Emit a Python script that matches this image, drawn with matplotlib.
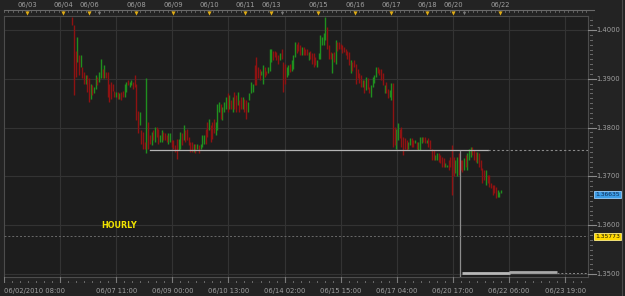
import numpy as np
import matplotlib
matplotlib.use("Agg")
import matplotlib.pyplot as plt
from matplotlib.lines import Line2D

# Свечи (часовые), цены открытия и закрытия
opens = [
    1.4027, 1.4010, 1.3958, 1.3934, 1.3948, 1.3924, 1.3924, 1.3914, 1.3890, 1.3907,
    1.3901, 1.3859, 1.3887, 1.3870, 1.3880, 1.3904, 1.3894, 1.3901, 1.3921, 1.3901,
    1.3914, 1.3914, 1.3890, 1.3894, 1.3890, 1.3876, 1.3863, 1.3873, 1.3859, 1.3873,
    1.3876, 1.3863, 1.3873, 1.3897, 1.3883, 1.3887, 1.3894, 1.3907, 1.3890, 1.3835,
    1.3805, 1.3795, 1.3791, 1.3771, 1.3747, 1.3812, 1.3784, 1.3764, 1.3795, 1.3771,
    1.3801, 1.3798, 1.3771, 1.3771, 1.3791, 1.3788, 1.3784, 1.3767, 1.3771, 1.3774,
    1.3774, 1.3764, 1.3777, 1.3754, 1.3757, 1.3788, 1.3774, 1.3795, 1.3798, 1.3781,
    1.3771, 1.3771, 1.3750, 1.3767, 1.3757, 1.3764, 1.3757, 1.3760, 1.3767, 1.3798,
    1.3812, 1.3795, 1.3805, 1.3812, 1.3818, 1.3784, 1.3795, 1.3832, 1.3849, 1.3815,
    1.3832, 1.3839, 1.3870, 1.3839, 1.3856, 1.3832, 1.3873, 1.3866, 1.3846, 1.3856,
    1.3863, 1.3839, 1.3859, 1.3856, 1.3832, 1.3856, 1.3870, 1.3873, 1.3928, 1.3945,
    1.3924, 1.3921, 1.3907, 1.3890, 1.3924, 1.3917, 1.3911, 1.3917, 1.3934, 1.3958,
    1.3958, 1.3955, 1.3948, 1.3938, 1.3962, 1.3934, 1.3931, 1.3904, 1.3907, 1.3931,
    1.3917, 1.3921, 1.3945, 1.3972, 1.3975, 1.3969, 1.3948, 1.3965, 1.3962, 1.3962,
    1.3938, 1.3958, 1.3952, 1.3952, 1.3945, 1.3924, 1.3941, 1.3941, 1.3969, 1.3969,
    1.3979, 1.4006, 1.3969, 1.3955, 1.3911, 1.3955, 1.3931, 1.3975, 1.3975, 1.3972,
    1.3969, 1.3965, 1.3962, 1.3958, 1.3955, 1.3911, 1.3934, 1.3938, 1.3931, 1.3921,
    1.3911, 1.3908, 1.3884, 1.3897, 1.3877, 1.3901, 1.3884, 1.3863, 1.3884, 1.3891,
    1.3904, 1.3925, 1.3921, 1.3921, 1.3911, 1.3870, 1.3894, 1.3880, 1.3863, 1.3857,
    1.3891, 1.3802, 1.3757, 1.3775, 1.3798, 1.3802, 1.3781, 1.3778, 1.3775, 1.3757,
    1.3764, 1.3778, 1.3775, 1.3768, 1.3771, 1.3754, 1.3754, 1.3768, 1.3781, 1.3781,
    1.3768, 1.3778, 1.3775, 1.3757, 1.3754, 1.3734, 1.3734, 1.3747, 1.3744, 1.3740,
    1.3737, 1.3720, 1.3720, 1.3734, 1.3740, 1.3764, 1.3740, 1.3706, 1.3700, 1.3747,
    1.3734, 1.3734, 1.3713, 1.3744, 1.3713, 1.3734, 1.3740, 1.3761, 1.3754, 1.3751,
    1.3727, 1.3747, 1.3734, 1.3717, 1.3713, 1.3682, 1.3703, 1.3703, 1.3686, 1.3682,
    1.3682, 1.3679, 1.3658, 1.3658, 1.3666,
]
closes = [
    1.4010, 1.3866, 1.3904, 1.3986, 1.3907, 1.3948, 1.3901, 1.3890, 1.3907, 1.3873,
    1.3853, 1.3890, 1.3866, 1.3883, 1.3907, 1.3887, 1.3914, 1.3941, 1.3901, 1.3928,
    1.3901, 1.3863, 1.3853, 1.3859, 1.3876, 1.3863, 1.3873, 1.3859, 1.3870, 1.3856,
    1.3863, 1.3890, 1.3894, 1.3887, 1.3894, 1.3897, 1.3880, 1.3883, 1.3815, 1.3788,
    1.3832, 1.3767, 1.3757, 1.3757, 1.3901, 1.3757, 1.3767, 1.3791, 1.3774, 1.3801,
    1.3781, 1.3767, 1.3784, 1.3795, 1.3774, 1.3774, 1.3771, 1.3788, 1.3788, 1.3760,
    1.3757, 1.3750, 1.3736, 1.3777, 1.3791, 1.3764, 1.3805, 1.3771, 1.3774, 1.3764,
    1.3750, 1.3750, 1.3767, 1.3747, 1.3767, 1.3747, 1.3767, 1.3784, 1.3784, 1.3767,
    1.3781, 1.3818, 1.3771, 1.3777, 1.3788, 1.3812, 1.3849, 1.3853, 1.3818, 1.3842,
    1.3853, 1.3863, 1.3832, 1.3866, 1.3839, 1.3863, 1.3839, 1.3832, 1.3873, 1.3832,
    1.3839, 1.3863, 1.3832, 1.3818, 1.3853, 1.3870, 1.3894, 1.3890, 1.3887, 1.3887,
    1.3901, 1.3897, 1.3917, 1.3928, 1.3904, 1.3907, 1.3924, 1.3962, 1.3962, 1.3938,
    1.3945, 1.3938, 1.3931, 1.3952, 1.3941, 1.3873, 1.3890, 1.3924, 1.3928, 1.3914,
    1.3938, 1.3948, 1.3975, 1.3952, 1.3958, 1.3948, 1.3965, 1.3948, 1.3948, 1.3948,
    1.3955, 1.3941, 1.3931, 1.3924, 1.3928, 1.3938, 1.3952, 1.3989, 1.3986, 1.3993,
    1.4027, 1.3962, 1.3941, 1.3941, 1.3952, 1.3934, 1.3979, 1.3958, 1.3962, 1.3962,
    1.3952, 1.3955, 1.3948, 1.3941, 1.3928, 1.3938, 1.3917, 1.3924, 1.3890, 1.3901,
    1.3891, 1.3884, 1.3897, 1.3870, 1.3904, 1.3880, 1.3870, 1.3887, 1.3904, 1.3908,
    1.3925, 1.3911, 1.3908, 1.3897, 1.3887, 1.3887, 1.3870, 1.3860, 1.3877, 1.3891,
    1.3761, 1.3764, 1.3798, 1.3809, 1.3778, 1.3761, 1.3744, 1.3757, 1.3754, 1.3771,
    1.3778, 1.3761, 1.3761, 1.3775, 1.3757, 1.3771, 1.3781, 1.3781, 1.3771, 1.3768,
    1.3775, 1.3761, 1.3757, 1.3734, 1.3734, 1.3744, 1.3747, 1.3730, 1.3727, 1.3720,
    1.3720, 1.3727, 1.3724, 1.3713, 1.3720, 1.3662, 1.3700, 1.3734, 1.3740, 1.3703,
    1.3713, 1.3710, 1.3737, 1.3720, 1.3747, 1.3757, 1.3761, 1.3744, 1.3734, 1.3730,
    1.3751, 1.3720, 1.3713, 1.3686, 1.3693, 1.3713, 1.3686, 1.3679, 1.3676, 1.3662,
    1.3666, 1.3655, 1.3672, 1.3669, 1.3672,
]

# Ось времени: часы от 06/02/2010 08:00
first_hour, last_hour = 45, 327.7
x_max = 385
bottom_ticks = [0, 37, 74, 111, 148, 185, 222, 259, 296, 333, 370]
bottom_labels = ['06/02/2010 08:00', '', '06/07 11:00', '06/09 00:00', '06/10 13:00',
                 '06/14 02:00', '06/15 15:00', '06/17 04:00', '06/20 17:00',
                 '06/22 06:00', '06/23 19:00']
top_dates = ['06/03', '06/04', '06/06', '06/08', '06/09', '06/10', '06/11', '06/13',
             '06/15', '06/16', '06/17', '06/18', '06/20', '06/22']
top_pos = [15.2, 39, 56.1, 87.2, 111.5, 135.2, 158.9, 176.1, 207.1, 231.4, 255.2,
           278.9, 296.0, 327.0]
gray_marks = [62.7, 183.3, 303.3]

price_ticks = [1.35, 1.36, 1.37, 1.38, 1.39, 1.40]
y_lo, y_hi = 1.34939, 1.40287

# Линии и метки
support = 1.3754
support_from, support_to = 96.3, 319
vline_at, vline_top = 300.6, 1.3752
dash_level = 1.35773
last_price = 1.36635
bar_level1, bar_from1, bar_to1 = 1.3503, 302, 333.6
bar_level2, bar_from2, bar_to2 = 1.3505, 333, 364.6

W, H = 625, 296
BG = '#232323'
PLOT_BG = '#1d1d1d'
GRID = '#333333'
TXT = '#a0a0a0'
FS = 4.9


def box(x0, y0, x1, y1):
    # пиксели (от левого верхнего угла) -> доли фигуры
    return [x0 / W, 1 - y1 / H, (x1 - x0) / W, (y1 - y0) / H]


fig = plt.figure(figsize=(W / 100, H / 100), dpi=100, facecolor=BG)

ax = fig.add_axes(box(3.9, 16, 588, 277), facecolor=PLOT_BG)
ax.set_xlim(0, x_max)
ax.set_ylim(y_lo, y_hi)
for s in ax.spines.values():
    s.set_color('#4c4c4c')
    s.set_linewidth(0.8)
ax.set_xticks([])
ax.set_yticks([])
for p in price_ticks:
    ax.axhline(p, color=GRID, lw=0.8, zorder=0)
for tk in bottom_ticks[1:]:
    ax.axvline(tk, color=GRID, lw=0.8, zorder=0)

# Свечи
o = np.array(opens)
c = np.array(closes)
t = np.linspace(first_hour, last_hour, len(o))
up = c >= o
ax.vlines(t[up], o[up], c[up], colors='#1f8f1f', lw=1.0, zorder=3)
ax.vlines(t[~up], c[~up], o[~up], colors='#8e1212', lw=1.0, zorder=3)

# Уровни
ax.plot([support_from, support_to], [support, support], color='#b4b4b4', lw=0.9, zorder=4)
ax.plot([support_to, x_max], [support, support], color='#8a8a8a', lw=0.8,
        ls=(0, (2, 2)), zorder=4)
ax.plot([vline_at, vline_at], [y_lo, vline_top], color='#8c8c8c', lw=0.9, zorder=4)
ax.axhline(dash_level, color='#6a6a6a', lw=0.7, ls=(0, (2, 2)), zorder=4)
ax.plot([bar_from1, bar_to1], [bar_level1, bar_level1], color='#b8b8b8', lw=2.0,
        solid_capstyle='butt', zorder=4)
ax.plot([bar_from2, bar_to2], [bar_level2, bar_level2], color='#a8a8a8', lw=2.0,
        solid_capstyle='butt', zorder=4)
ax.plot([bar_to2, x_max], [bar_level1, bar_level1], color='#8a8a8a', lw=0.7,
        ls=(0, (2, 2)), zorder=4)

# Правая шкала цен
rax = fig.add_axes(box(588, 16, 593, 277), facecolor='none')
rax.set_xlim(0, 1)
rax.set_ylim(y_lo, y_hi)
rax.axis('off')
rax.axvline(1, color='#6a6a6a', lw=0.8)
for p in np.arange(1.350, 1.4025, 0.001):
    rax.plot([0.4, 1], [p, p], color='#6a6a6a', lw=0.7)
for p in price_ticks:
    rax.plot([-0.1, 1.5], [p, p], color='#8a8a8a', lw=0.8, clip_on=False)

rlab = fig.add_axes(box(593, 16, 622, 277), facecolor='none')
rlab.set_xlim(0, 1)
rlab.set_ylim(y_lo, y_hi)
rlab.axis('off')
for p in price_ticks:
    rlab.text(0.1, p, f'{p:.4f}', color=TXT, fontsize=FS, va='center', ha='left')
rlab.text(0.08, last_price, f'{last_price:.5f}', color='#0c2a55', fontsize=4.3,
          va='center', ha='left',
          bbox=dict(boxstyle='square,pad=0.2', fc='#3d9de6', ec='#9bd0ff', lw=0.6))
rlab.text(0.08, dash_level, f'{dash_level:.5f}', color='#111111', fontsize=4.3,
          va='center', ha='left',
          bbox=dict(boxstyle='square,pad=0.2', fc='#ffd800', ec='#fff08a', lw=0.6))

# Нижняя шкала времени
bax = fig.add_axes(box(3.9, 277, 588, 283), facecolor='none')
bax.set_xlim(0, x_max)
bax.set_ylim(0, 1)
bax.axis('off')
bax.axhline(0, color='#6a6a6a', lw=0.8)
for m in np.arange(0, x_max, 37 / 7):
    bax.plot([m, m], [0, 0.35], color='#6a6a6a', lw=0.7)
for tk in bottom_ticks:
    bax.plot([tk, tk], [0, 1], color='#7a7a7a', lw=0.8)
for tk, lab in zip(bottom_ticks, bottom_labels):
    bax.text(tk, -0.9, lab, color=TXT, fontsize=FS, va='top',
             ha='left' if tk == 0 else 'center')

# Верхняя шкала с отметками дат
tax = fig.add_axes(box(3.9, 10, 588, 16), facecolor='none')
tax.set_xlim(0, x_max)
tax.set_ylim(0, 1)
tax.axis('off')
tax.plot([0, x_max + 4], [1, 1], color='#6a6a6a', lw=0.8, clip_on=False)
for m in np.arange(0, x_max, 3):
    tax.plot([m, m], [1, 0.6], color='#6a6a6a', lw=0.6)
tax.scatter(top_pos, [0.55] * len(top_pos), marker='v', s=9, color='#e0ac14',
            linewidths=0, zorder=3)
tax.scatter(gray_marks, [0.55] * len(gray_marks), marker='v', s=6, color='#7a7a7a',
            linewidths=0, zorder=3)
for pos, lab in zip(top_pos, top_dates):
    tax.text(pos, 1.4, lab, color=TXT, fontsize=FS, ha='center', va='bottom')

# Подпись таймфрейма
fig.text(101 / W, 1 - 226 / H, 'HOURLY', color='#f2e400', fontsize=5.8,
         fontweight='bold', va='center', ha='left')

# Рамка справа
fig.add_artist(Line2D([622 / W, 622 / W], [0, 1], color='#4a4a4a', lw=0.8))

fig.savefig('out.png', dpi=100, facecolor=BG)
